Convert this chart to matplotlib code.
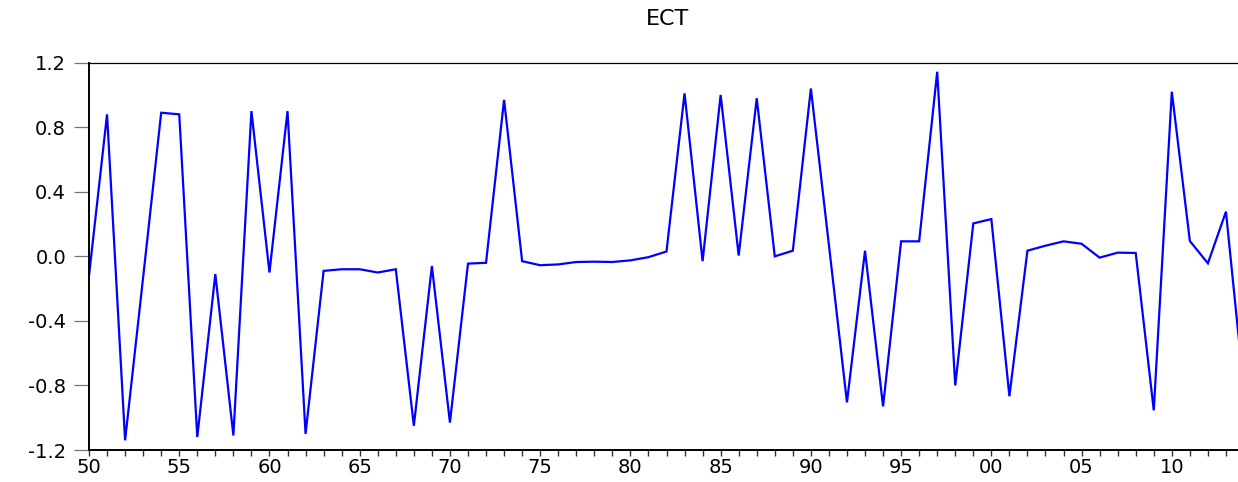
import matplotlib
matplotlib.use("Agg")
import matplotlib.pyplot as plt
from matplotlib.ticker import FixedLocator, MultipleLocator

plt.rcParams['axes.unicode_minus'] = False

years = list(range(1950, 2015))
ect = [
    -0.12, 0.88, -1.14, -0.13, 0.89, 0.88, -1.12, -0.11, -1.11, 0.90,   # 1950-1959
    -0.10, 0.90, -1.10, -0.09, -0.08, -0.08, -0.10, -0.08, -1.05, -0.06, # 1960-1969
    -1.03, -0.045, -0.04, 0.97, -0.03, -0.055, -0.05, -0.035, -0.033, -0.035, # 1970-1979
    -0.025, -0.005, 0.03, 1.01, -0.03, 1.00, 0.005, 0.98, 0.0, 0.035,   # 1980-1989
    1.04, 0.07, -0.905, 0.035, -0.93, 0.093, 0.093, 1.144, -0.80, 0.204, # 1990-1999
    0.231, -0.867, 0.035, 0.066, 0.093, 0.078, -0.008, 0.023, 0.021, -0.954, # 2000-2009
    1.02, 0.095, -0.043, 0.277, -0.83,                                   # 2010-2014
]
xtick_years = list(range(1950, 2015, 5))
xtick_labels = ["50", "55", "60", "65", "70", "75", "80", "85", "90", "95", "00", "05", "10"]
yticks = [-1.2, -0.8, -0.4, 0.0, 0.4, 0.8, 1.2]
ytick_labels = ["-1.2", "-0.8", "-0.4", "0.0", "0.4", "0.8", "1.2"]

W, H = 1238, 482
fig = plt.figure(figsize=(W / 100, H / 100), dpi=100)
left, right, top, bottom = 89, 1244, 62.7, 450
ax = fig.add_axes([left / W, 1 - bottom / H, (right - left) / W, (bottom - top) / H])

ax.plot(years, ect, color=(0, 0, 1), lw=1.6, solid_joinstyle='miter')

ax.set_xlim(1950, 2014)
ax.set_ylim(-1.2, 1.2)

ax.xaxis.set_major_locator(FixedLocator(xtick_years))
ax.xaxis.set_minor_locator(MultipleLocator(1))
ax.set_xticklabels(xtick_labels)
ax.set_yticks(yticks)
ax.set_yticklabels(ytick_labels)

ax.tick_params(axis='x', which='both', direction='out', length=4.5, width=1.0,
               color='#333333', pad=1.5, labelsize=14)
ax.tick_params(axis='y', which='both', direction='out', length=10.5, width=0.9,
               color='#777777', pad=6, labelsize=14)
for lab in ax.get_xticklabels() + ax.get_yticklabels():
    lab.set_family('DejaVu Sans')

ax.spines['right'].set_visible(False)
ax.spines['top'].set_linewidth(0.9)
ax.spines['left'].set_linewidth(1.4)
ax.spines['bottom'].set_linewidth(1.4)
for s in ax.spines.values():
    s.set_color('black')

fig.text(667 / W, 1 - 19 / H, "ECT", ha='center', va='center',
         fontsize=16, family='DejaVu Sans')

fig.savefig("out.png", dpi=100)
